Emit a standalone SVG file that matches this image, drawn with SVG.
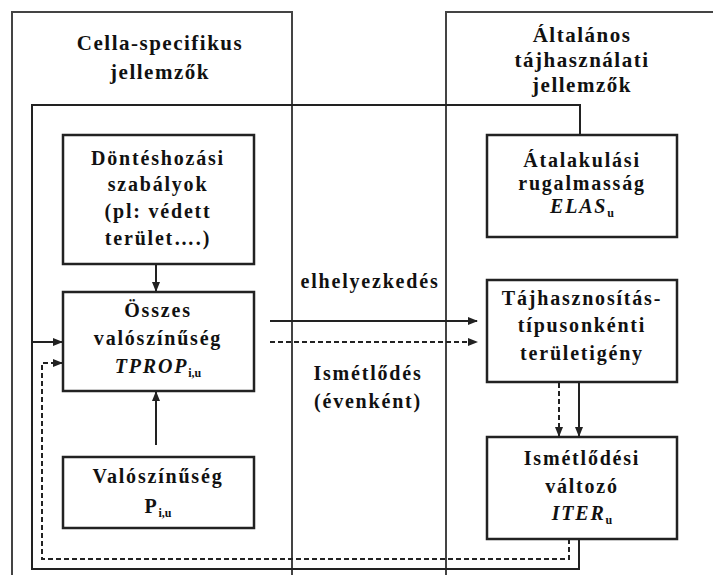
<svg xmlns="http://www.w3.org/2000/svg" width="713" height="575" viewBox="0 0 713 575" font-family="'Liberation Serif', 'DejaVu Serif', serif">
<style>
.frame{fill:none;stroke:#444;stroke-width:2}
.box{fill:#fff;stroke:#222;stroke-width:2.5}
.ln{fill:none;stroke:#222;stroke-width:2}
.dash{fill:none;stroke:#222;stroke-width:2;stroke-dasharray:5 3}
text{font-family:'Liberation Serif','DejaVu Serif',serif;font-weight:bold;font-size:20px;fill:#111;text-anchor:middle;letter-spacing:1.8px}
.t{font-size:21px;letter-spacing:1.5px}
.it{font-style:italic}
.sub{font-size:12px;letter-spacing:0}
</style>
<defs>
<marker id="ah" markerWidth="10" markerHeight="8" refX="9" refY="4" orient="auto" markerUnits="userSpaceOnUse">
<path d="M0,0 L10,4 L0,8 z" fill="#222"/>
</marker>
</defs>
<g id="frame-cella">
<path class="frame" d="M12,575 V12 H292 V575"/>
<text class="t" x="160" y="50">Cella-specifikus</text>
<text class="t" x="160" y="79">jellemzők</text>
</g>
<g id="frame-altalanos">
<path class="frame" d="M446,575 V12 H713"/>
<text class="t" x="582" y="42">Általános</text>
<text class="t" x="582" y="67">tájhasználati</text>
<text class="t" x="582" y="92">jellemzők</text>
</g>
<g id="connectors">
<path class="ln" d="M580,135 V105 H32 V569 H579 V539"/>
<path class="ln" d="M32,342 H62" marker-end="url(#ah)"/>
<path class="dash" d="M569,539 V559 H42 V363 H62" marker-end="url(#ah)"/>
<path class="ln" d="M156,244 V291" marker-end="url(#ah)"/>
<path class="ln" d="M156,445 V392" marker-end="url(#ah)"/>
<path class="ln" d="M270,321 H477" marker-end="url(#ah)"/>
<path class="dash" d="M270,342 H477" marker-end="url(#ah)"/>
<path class="dash" d="M559,383 V436" marker-end="url(#ah)"/>
<path class="ln" d="M579,383 V436" marker-end="url(#ah)"/>
<text x="370" y="288">elhelyezkedés</text>
<text x="368" y="380">Ismétlődés</text>
<text x="368" y="408">(évenként)</text>
</g>
<g id="dontes">
<rect class="box" x="63" y="135" width="191" height="129"/>
<text x="158" y="165">Döntéshozási</text>
<text x="158" y="191">szabályok</text>
<text x="158" y="218">(pl: védett</text>
<text x="158" y="245">terület….)</text>
</g>
<g id="tprop">
<rect class="box" x="63" y="292" width="191" height="99"/>
<text x="158" y="317">Összes</text>
<text x="158" y="345">valószínűség</text>
<text x="158" y="373"><tspan class="it">TPROP</tspan><tspan class="sub" dy="4">i,u</tspan></text>
</g>
<g id="valoszinuseg">
<rect class="box" x="63" y="457" width="191" height="71"/>
<text x="158" y="483">Valószínűség</text>
<text x="158" y="513">P<tspan class="sub" dy="4">i,u</tspan></text>
</g>
<g id="elas">
<rect class="box" x="487" y="135" width="190" height="102"/>
<text x="582" y="167">Átalakulási</text>
<text x="582" y="190">rugalmasság</text>
<text x="582" y="213"><tspan class="it">ELAS</tspan><tspan class="sub" dy="4">u</tspan></text>
</g>
<g id="teruletigeny">
<rect class="box" x="487" y="280" width="190" height="102"/>
<text x="582" y="305">Tájhasznosítás-</text>
<text x="582" y="332">típusonkénti</text>
<text x="582" y="360">területigény</text>
</g>
<g id="iter">
<rect class="box" x="487" y="437" width="190" height="102"/>
<text x="582" y="465">Ismétlődési</text>
<text x="582" y="493">változó</text>
<text x="582" y="520"><tspan class="it">ITER</tspan><tspan class="sub" dy="4">u</tspan></text>
</g>
</svg>
